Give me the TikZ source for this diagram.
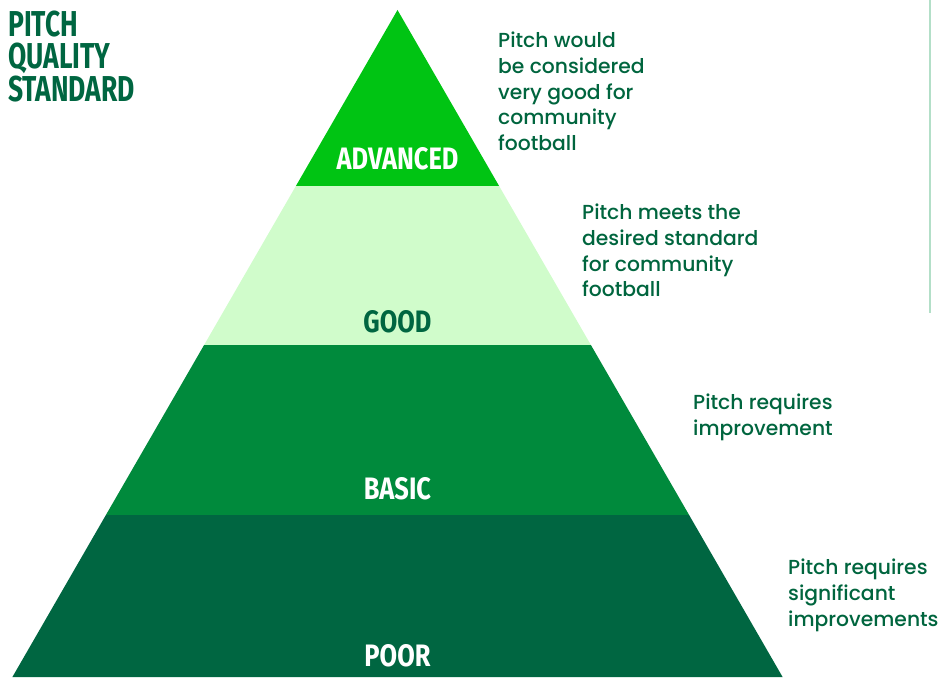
\documentclass[tikz,border=0pt]{standalone}
\usepackage{fontspec}
\setmainfont{Poppins}[UprightFont=* Medium]
\newfontfamily\headfont[FakeStretch=0.735]{Fira Sans}
\newfontfamily\levelfont[FakeStretch=0.82]{Fira Sans}

\definecolor{advancedgreen}{HTML}{00C413}
\definecolor{goodgreen}{HTML}{D0FCCB}
\definecolor{basicgreen}{HTML}{008A3C}
\definecolor{poorgreen}{HTML}{006641}
\definecolor{inkgreen}{HTML}{00653E}
\definecolor{rulegreen}{HTML}{B3DFC8}

\tikzset{
  level/.style={anchor=base, inner sep=0pt, text=white,
    font=\levelfont\bfseries\fontsize{31}{31}\selectfont},
  heading/.style={anchor=base west, inner sep=0pt, text=poorgreen,
    font=\headfont\bfseries\fontsize{36}{36}\selectfont},
  desc/.style={anchor=north west, inner sep=0pt, align=left, text=inkgreen,
    font=\fontsize{20.3}{25.7}\selectfont},
}

\begin{document}
\begin{tikzpicture}[x=1pt,y=-1pt]
	\useasboundingbox (0,0) rectangle (939,677);

	% Pyramid bands, top to bottom
	\fill[advancedgreen] (397.5,10) -- (499.1,186) -- (295.9,186) -- cycle;
	\fill[goodgreen] (295.9,186) -- (499.1,186) -- (590.9,345) -- (204.1,345) -- cycle;
	\fill[basicgreen] (204.1,345) -- (590.9,345) -- (689.1,515) -- (105.9,515) -- cycle;
	\fill[poorgreen] (105.9,515) -- (689.1,515) -- (782.6,677) -- (12.4,677) -- cycle;

	% Band names
	\node[level] (advanced) at (397.5,169) {ADVANCED};
	\node[level, text=poorgreen] (good) at (397.5,332) {GOOD};
	\node[level] (basic) at (397.5,499) {BASIC};
	\node[level] (poor) at (397.5,666) {POOR};

	% Title, one line per node
	\node[heading] (title1) at (8,37) {PITCH};
	\node[heading] (title2) at (8,69) {QUALITY};
	\node[heading] (title3) at (8,101) {STANDARD};

	% Descriptions
	\node[desc] (advancedtext) at (498,32)
		{Pitch would\\be considered\\very good for\\community\\football};
	\node[desc] (goodtext) at (582,204)
		{Pitch meets the\\desired standard\\for community\\football};
	\node[desc] (basictext) at (693,394)
		{Pitch requires\\improvement};
	\node[desc] (poortext) at (788,559)
		{Pitch requires\\significant\\improvements};

	% Divider on the right
	\draw[rulegreen, line width=2pt] (929.7,0) -- (929.7,313);
\end{tikzpicture}
\end{document}
